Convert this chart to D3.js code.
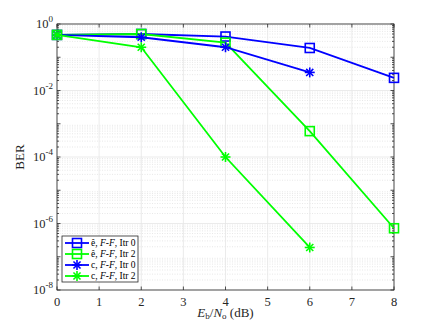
<!DOCTYPE html>
<html><head><meta charset="utf-8">
<script src="https://cdn.jsdelivr.net/npm/d3@7"></script>
<style>body{margin:0;background:#fff}svg{display:block}text{font-family:"Liberation Serif","DejaVu Serif",serif}</style>
</head><body>
<svg id="c" width="436" height="327"></svg>
<script>
const xVals = [0, 2, 4, 6, 8];
const s1 = [0.47, 0.5, 0.42, 0.19, 0.024];      // ê, F-F, Itr 0
const s2 = [0.47, 0.5, 0.275, 6.0e-4, 7.2e-7];  // ê, F-F, Itr 2
const s3 = [0.47, 0.4, 0.2, 0.035];             // c, F-F, Itr 0
const s4 = [0.47, 0.2, 1.0e-4, 1.9e-7];         // c, F-F, Itr 2
const xTicks = [0,1,2,3,4,5,6,7,8];
const yTicks = [0,-2,-4,-6,-8];
const series = [
  {name:"ê", itr:"0", vals:s1, color:"#0000ff", marker:"square"},
  {name:"ê", itr:"2", vals:s2, color:"#00ff00", marker:"square"},
  {name:"c", itr:"0", vals:s3, color:"#0000ff", marker:"star"},
  {name:"c", itr:"2", vals:s4, color:"#00ff00", marker:"star"}
];

const L=57, R=394, T=24, B=290;
const svg = d3.select("#c");
const x = d3.scaleLinear().domain([0,8]).range([L,R]);
const y = d3.scaleLog().domain([1e-8,1]).range([B,T]);

svg.append("rect").attr("x",L).attr("y",T).attr("width",R-L).attr("height",B-T).attr("fill","#fff");

// minor grid
const g = svg.append("g");
for (let e=-8;e<0;e++){
  for (let m=2;m<=9;m++){
    const yy=y(m*Math.pow(10,e));
    g.append("line").attr("x1",L).attr("x2",R).attr("y1",yy).attr("y2",yy)
      .attr("stroke","#d8d8d8").attr("stroke-width",0.6).attr("stroke-dasharray","1,1.5");
  }
}
// major grid
xTicks.forEach(t=>{ g.append("line").attr("x1",x(t)).attr("x2",x(t)).attr("y1",T).attr("y2",B).attr("stroke","#e6e6e6").attr("stroke-width",0.8); });
yTicks.forEach(t=>{ g.append("line").attr("x1",L).attr("x2",R).attr("y1",y(Math.pow(10,t))).attr("y2",y(Math.pow(10,t))).attr("stroke","#e6e6e6").attr("stroke-width",0.8); });

// axes
const ax = svg.append("g").attr("stroke","#262626").attr("stroke-width",0.8);
ax.append("rect").attr("x",L).attr("y",T).attr("width",R-L).attr("height",B-T).attr("fill","none");
xTicks.forEach(t=>{
  ax.append("line").attr("x1",x(t)).attr("x2",x(t)).attr("y1",B).attr("y2",B-3.5);
  ax.append("line").attr("x1",x(t)).attr("x2",x(t)).attr("y1",T).attr("y2",T+3.5);
});
for (let e=-8;e<=0;e++){
  const yy=y(Math.pow(10,e));
  ax.append("line").attr("x1",L).attr("x2",L+3.5).attr("y1",yy).attr("y2",yy);
  ax.append("line").attr("x1",R).attr("x2",R-3.5).attr("y1",yy).attr("y2",yy);
  if(e<0) for(let m=2;m<=9;m++){
    const ym=y(m*Math.pow(10,e));
    ax.append("line").attr("x1",L).attr("x2",L+2).attr("y1",ym).attr("y2",ym);
    ax.append("line").attr("x1",R).attr("x2",R-2).attr("y1",ym).attr("y2",ym);
  }
}
// tick labels
xTicks.forEach(t=>{
  svg.append("text").attr("x",x(t)).attr("y",B+16).attr("text-anchor","middle").attr("font-size",12.5).attr("fill","#262626").text(t);
});
yTicks.forEach(t=>{
  const tx = svg.append("text").attr("x",L-4).attr("y",y(Math.pow(10,t))+4).attr("text-anchor","end").attr("font-size",12.5).attr("fill","#262626");
  tx.append("tspan").text("10");
  tx.append("tspan").attr("dy",-6).attr("font-size",9).text(t);
});
// axis labels
const xl = svg.append("text").attr("x",(L+R)/2).attr("y",317).attr("text-anchor","middle").attr("font-size",13).attr("fill","#262626");
xl.append("tspan").attr("font-style","italic").text("E");
xl.append("tspan").attr("font-size",9).attr("dy",2).text("b");
xl.append("tspan").attr("dy",-2).text("/");
xl.append("tspan").attr("font-style","italic").text("N");
xl.append("tspan").attr("font-size",9).attr("dy",2).text("o");
xl.append("tspan").attr("dy",-2).text(" (dB)");
svg.append("text").attr("transform",`translate(24,${(T+B)/2}) rotate(-90)`).attr("text-anchor","middle").attr("font-size",13).attr("fill","#262626").text("BER");

// markers
function drawMarker(sel, type, cx, cy, color){
  if(type==="square"){
    sel.append("rect").attr("x",cx-4.5).attr("y",cy-4.5).attr("width",9).attr("height",9)
      .attr("fill","none").attr("stroke",color).attr("stroke-width",1.6);
  } else {
    const r=5;
    [0,45,90,135].forEach(a=>{
      const rad=a*Math.PI/180;
      sel.append("line").attr("x1",cx-r*Math.cos(rad)).attr("y1",cy-r*Math.sin(rad))
        .attr("x2",cx+r*Math.cos(rad)).attr("y2",cy+r*Math.sin(rad))
        .attr("stroke",color).attr("stroke-width",1.6);
    });
  }
}
const line = d3.line().x(d=>x(d[0])).y(d=>y(d[1]));
const plot = svg.append("g");
series.forEach(s=>{
  const pts = s.vals.map((v,i)=>[xVals[i],v]);
  plot.append("path").attr("d",line(pts)).attr("fill","none").attr("stroke",s.color).attr("stroke-width",1.8);
  pts.forEach(p=>drawMarker(plot,s.marker,x(p[0]),y(p[1]),s.color));
});

// legend
const lg = svg.append("g");
lg.append("rect").attr("x",62).attr("y",236).attr("width",76).attr("height",46).attr("fill","#fff").attr("stroke","#262626").attr("stroke-width",0.8);
series.forEach((s,i)=>{
  const yy = 243 + i*11;
  lg.append("line").attr("x1",65).attr("x2",89).attr("y1",yy).attr("y2",yy).attr("stroke",s.color).attr("stroke-width",1.8);
  drawMarker(lg,s.marker,77,yy,s.color);
  const t = lg.append("text").attr("x",91).attr("y",yy+3).attr("font-size",9.5).attr("fill","#000");
  t.append("tspan").text(s.name+", ");
  t.append("tspan").attr("font-style","italic").text("F");
  t.append("tspan").text("-");
  t.append("tspan").attr("font-style","italic").text("F");
  t.append("tspan").text(", Itr "+s.itr);
});
</script>
</body></html>
